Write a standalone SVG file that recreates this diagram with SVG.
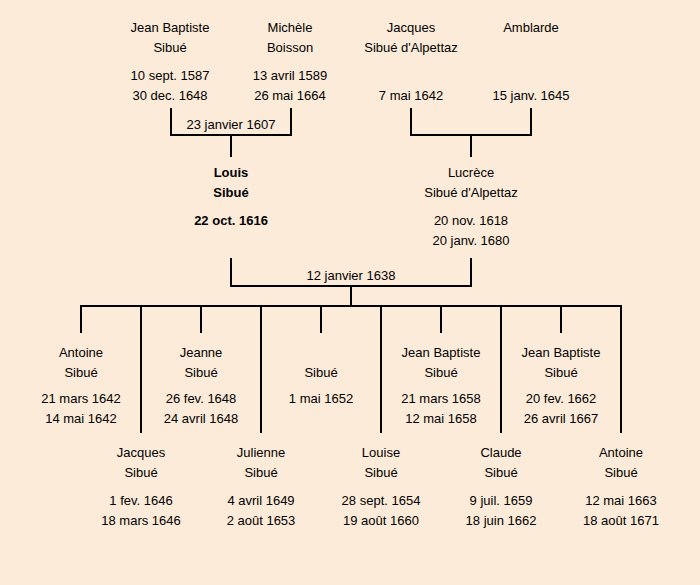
<svg xmlns="http://www.w3.org/2000/svg" width="700" height="585" viewBox="0 0 700 585">
<style>
text{font-family:"Liberation Sans","DejaVu Sans",sans-serif;font-size:13px;fill:#000;text-anchor:middle}
.b{font-weight:bold}
.ln{stroke:#000;stroke-width:2;fill:none}
</style>
<rect width="700" height="585" fill="#FCEBD8"/>
<g id="connectors" class="ln">
<path d="M171 108V135H291V108M231 135V157"/>
<path d="M411 108V135H531V108M471 135V157"/>
<path d="M231 258V286H471V258M351 286V306"/>
<path d="M81 333V306H621V433"/>
<path d="M201 306V333M321 306V333M441 306V333M561 306V333"/>
<path d="M141 306V433M261 306V433M381 306V433M501 306V433"/>
</g>
<g id="label-1607"><text x="231" y="129">23 janvier 1607</text></g>
<g id="label-1638"><text x="351" y="280">12 janvier 1638</text></g>
<g id="jean-baptiste-sr"><text x="170" y="32">Jean Baptiste</text><text x="170" y="52">Sibué</text><text x="170" y="80">10 sept. 1587</text><text x="170" y="100">30 dec. 1648</text></g>
<g id="michele"><text x="290" y="32">Michèle</text><text x="290" y="52">Boisson</text><text x="290" y="80">13 avril 1589</text><text x="290" y="100">26 mai 1664</text></g>
<g id="jacques-sr"><text x="411" y="32">Jacques</text><text x="411" y="52">Sibué d'Alpettaz</text><text x="411" y="100">7 mai 1642</text></g>
<g id="amblarde"><text x="531" y="32">Amblarde</text><text x="531" y="100">15 janv. 1645</text></g>
<g id="louis"><text class="b" x="231" y="177">Louis</text><text class="b" x="231" y="197">Sibué</text><text class="b" x="231" y="225">22 oct. 1616</text></g>
<g id="lucrece"><text x="471" y="177">Lucrèce</text><text x="471" y="197">Sibué d'Alpettaz</text><text x="471" y="225">20 nov. 1618</text><text x="471" y="245">20 janv. 1680</text></g>
<g id="antoine1"><text x="81" y="357">Antoine</text><text x="81" y="377">Sibué</text><text x="81" y="403">21 mars 1642</text><text x="81" y="423">14 mai 1642</text></g>
<g id="jeanne"><text x="201" y="357">Jeanne</text><text x="201" y="377">Sibué</text><text x="201" y="403">26 fev. 1648</text><text x="201" y="423">24 avril 1648</text></g>
<g id="sibue"><text x="321" y="377">Sibué</text><text x="321" y="403">1 mai 1652</text></g>
<g id="jean-baptiste1"><text x="441" y="357">Jean Baptiste</text><text x="441" y="377">Sibué</text><text x="441" y="403">21 mars 1658</text><text x="441" y="423">12 mai 1658</text></g>
<g id="jean-baptiste2"><text x="561" y="357">Jean Baptiste</text><text x="561" y="377">Sibué</text><text x="561" y="403">20 fev. 1662</text><text x="561" y="423">26 avril 1667</text></g>
<g id="jacques"><text x="141" y="457">Jacques</text><text x="141" y="477">Sibué</text><text x="141" y="505">1 fev. 1646</text><text x="141" y="525">18 mars 1646</text></g>
<g id="julienne"><text x="261" y="457">Julienne</text><text x="261" y="477">Sibué</text><text x="261" y="505">4 avril 1649</text><text x="261" y="525">2 août 1653</text></g>
<g id="louise"><text x="381" y="457">Louise</text><text x="381" y="477">Sibué</text><text x="381" y="505">28 sept. 1654</text><text x="381" y="525">19 août 1660</text></g>
<g id="claude"><text x="501" y="457">Claude</text><text x="501" y="477">Sibué</text><text x="501" y="505">9 juil. 1659</text><text x="501" y="525">18 juin 1662</text></g>
<g id="antoine2"><text x="621" y="457">Antoine</text><text x="621" y="477">Sibué</text><text x="621" y="505">12 mai 1663</text><text x="621" y="525">18 août 1671</text></g>
</svg>
